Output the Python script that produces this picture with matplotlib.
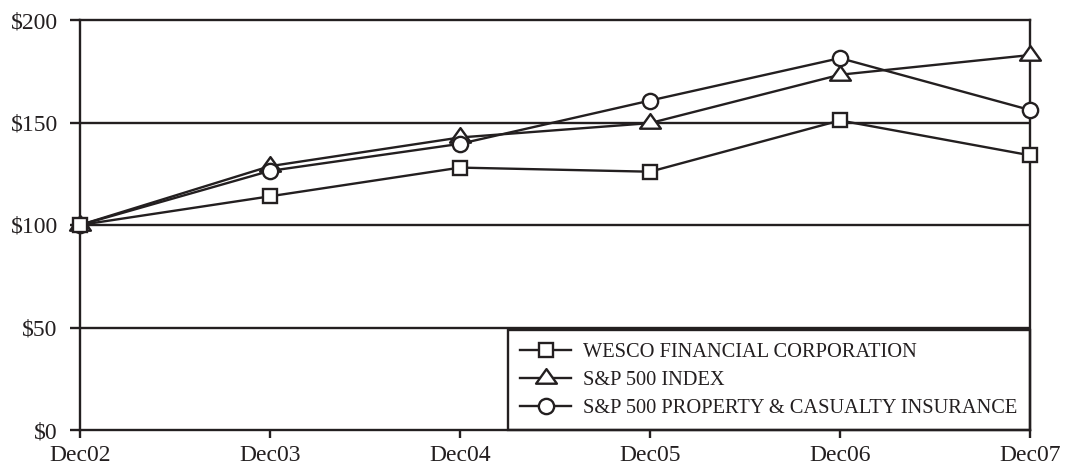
import matplotlib.pyplot as plt
from matplotlib.path import Path

years = ["Dec02", "Dec03", "Dec04", "Dec05", "Dec06", "Dec07"]
wesco = [100, 114, 128, 126, 151, 134]
sp500 = [100, 128.7, 142.7, 149.7, 173.3, 182.9]
sp_pc = [100, 126.4, 139.6, 160.7, 181.4, 156.1]
y_ticks = [0, 50, 100, 150, 200]

ink = "#231f20"
plt.rcParams["font.family"] = ["Liberation Serif", "DejaVu Serif"]

# wide, flat triangle like the original
tri = Path([(0, 0.9), (-1, -0.5), (1, -0.5), (0, 0.9)],
           [Path.MOVETO, Path.LINETO, Path.LINETO, Path.CLOSEPOLY])

fig = plt.figure(figsize=(10.71, 4.68), dpi=100)
ax = fig.add_axes([80 / 1071, 1 - 430 / 468, 950 / 1071, 410 / 468])

lw = 1.7
x = range(len(years))
for v in y_ticks[1:-1]:
    ax.axhline(v, color=ink, lw=lw, zorder=1)

ax.plot(x, sp500, color=ink, lw=lw, marker=tri, ms=15, mfc="white",
        mec=ink, mew=lw, label="S&P 500 INDEX", zorder=3, clip_on=False)
ax.plot(x, sp_pc, color=ink, lw=lw, marker="o", ms=11, mfc="white",
        mec=ink, mew=lw, label="S&P 500 PROPERTY & CASUALTY INSURANCE",
        zorder=4, clip_on=False)
ax.plot(x, wesco, color=ink, lw=lw, marker="s", ms=10, mfc="white",
        mec=ink, mew=lw, label="WESCO FINANCIAL CORPORATION", zorder=5,
        clip_on=False)

ax.set_xlim(0, len(years) - 1)
ax.set_ylim(0, 200)
ax.set_xticks(list(x))
ax.set_xticklabels(years)
ax.set_yticks(y_ticks)
ax.set_yticklabels(["$%d" % v for v in y_ticks])
ax.tick_params(axis="both", colors=ink, labelcolor=ink, labelsize=17, width=lw)
ax.tick_params(axis="y", length=7, pad=9)
ax.tick_params(axis="x", length=6, pad=5)
for s in ax.spines.values():
    s.set_color(ink)
    s.set_linewidth(lw)

h, l = ax.get_legend_handles_labels()
order = [2, 0, 1]
leg = ax.legend([h[i] for i in order], [l[i] for i in order],
                loc="lower left", bbox_to_anchor=(428 / 950, 0, 522 / 950, 0.25),
                mode="expand", borderaxespad=0, fancybox=False, fontsize=14.7,
                handlelength=2.5, handletextpad=0.55, labelspacing=0.42,
                borderpad=0.6, edgecolor=ink, framealpha=1)
leg.get_frame().set_linewidth(lw)
leg.set_zorder(2)
for t in leg.get_texts():
    t.set_color(ink)

fig.savefig("out.png", dpi=100)
